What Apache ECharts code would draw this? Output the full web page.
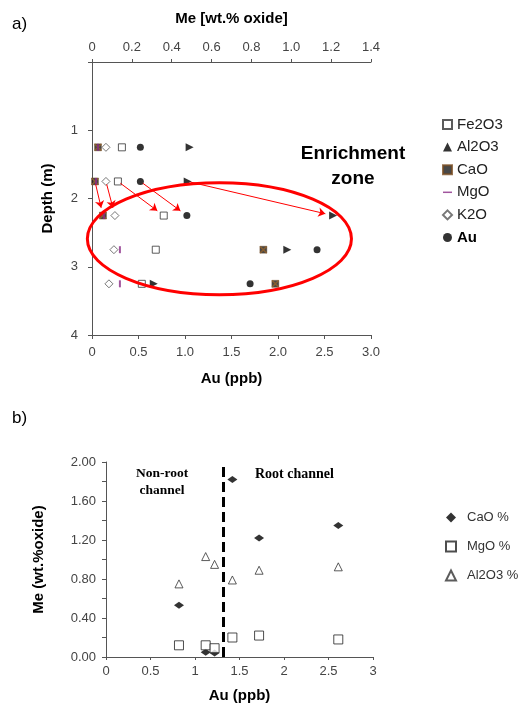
<!DOCTYPE html>
<html>
<head>
<meta charset="utf-8">
<script src="https://cdn.jsdelivr.net/npm/echarts@6/dist/echarts.min.js"></script>
<style>
html, body { margin: 0; padding: 0; background: #fff; }
#chart { width: 521px; height: 704px; }
</style>
</head>
<body>
<div id="chart"></div>
<script>
// panel a) depth profile, oxides on the top axis, Au on the bottom axis
const depths = [1.25, 1.75, 2.25, 2.75, 3.25]
const fe2o3 = [0.15, 0.13, 0.36, 0.32, 0.25]
const al2o3 = [0.49, 0.48, 1.21, 0.98, 0.31]
const cao = [0.03, 0.015, 0.055, 0.86, 0.92]
const mgo = [0.03, 0.02, 0.06, 0.14, 0.14]
const k2o = [0.07, 0.07, 0.115, 0.11, 0.085]
const au = [0.52, 0.52, 1.02, 2.42, 1.70]

// enrichment ellipse, in data units (Au, depth)
const zone = { au: 1.37, depth: 2.59, auHalf: 1.42, depthHalf: 0.82 }

// panel b) Me vs Au
const auB = [0.82, 1.12, 1.22, 1.42, 1.72, 2.61]
const caoB = [0.53, 0.05, 0.04, 1.82, 1.22, 1.35]
const mgoB = [0.12, 0.12, 0.09, 0.20, 0.22, 0.18]
const al2o3B = [0.75, 1.03, 0.95, 0.79, 0.89, 0.925]
const rootLimit = 1.32

const FONT = '"Liberation Sans", Arial, sans-serif'
const SERIF = '"Liberation Serif", "Times New Roman", serif'
const AXIS_COLOR = '#555'
const LABEL_COLOR = '#444'

const byDepth = (vals) => vals.map((v, i) => [v, depths[i]])
const byAu = (vals) => vals.map((v, i) => [auB[i], v])
const oneDec = (v) => (v === 0 ? '0' : v.toFixed(1))

const chart = echarts.init(document.getElementById('chart'))

const axisBase = {
  type: 'value',
  splitLine: { show: false },
  axisLine: { show: true, onZero: false, lineStyle: { color: AXIS_COLOR, width: 1 } },
  axisTick: { show: true, length: 4, lineStyle: { color: AXIS_COLOR } },
  axisLabel: { color: LABEL_COLOR, fontFamily: FONT, fontSize: 13 },
  nameTextStyle: { color: '#000', fontFamily: FONT, fontSize: 15, fontWeight: 'bold' },
  nameLocation: 'middle'
}

const option = {
  animation: false,
  backgroundColor: '#fff',
  grid: [
    { left: 92, top: 62, width: 279, height: 273 },
    { left: 106, top: 462, width: 267, height: 199 }
  ],
  xAxis: [
    {
      ...axisBase, gridIndex: 0, position: 'top', min: 0, max: 1.4, interval: 0.2,
      name: 'Me [wt.% oxide]', nameGap: 36,
      axisTick: { ...axisBase.axisTick, length: 3 },
      axisLabel: { ...axisBase.axisLabel, margin: 8, formatter: oneDec }
    },
    {
      ...axisBase, gridIndex: 0, position: 'bottom', min: 0, max: 3, interval: 0.5,
      name: 'Au (ppb)', nameGap: 36,
      axisLabel: { ...axisBase.axisLabel, margin: 11, formatter: oneDec }
    },
    {
      ...axisBase, gridIndex: 1, position: 'bottom', min: 0, max: 3, interval: 0.5,
      name: 'Au (ppb)', nameGap: 31,
      axisTick: { ...axisBase.axisTick, length: 3 },
      axisLabel: { ...axisBase.axisLabel, margin: 8 }
    }
  ],
  yAxis: [
    {
      ...axisBase, gridIndex: 0, inverse: true, min: 0, max: 4, interval: 1,
      name: 'Depth (m)', nameGap: 37,
      axisLabel: { ...axisBase.axisLabel, margin: 14, formatter: (v) => (v === 0 ? '' : v) }
    },
    {
      ...axisBase, gridIndex: 1, min: 0, max: 2, interval: 0.2,
      name: 'Me (wt.%oxide)', nameGap: 60,
      axisLabel: {
        ...axisBase.axisLabel, margin: 10,
        formatter: (v) => (Math.round(v * 10) % 4 === 0 ? v.toFixed(2) : '')
      }
    }
  ],
  legend: [
    {
      orient: 'vertical', left: 442, top: 117, padding: 0,
      itemWidth: 9, itemHeight: 9, itemGap: 7.6,
      textStyle: { color: '#222', fontFamily: FONT, fontSize: 15 },
      data: [
        { name: 'Fe2O3' },
        { name: 'Al2O3', icon: 'triangle' },
        { name: 'CaO' },
        { name: 'MgO', icon: 'path://M0,0 L12,0 L12,2 L0,2 Z' },
        { name: 'K2O' },
        { name: 'Au', textStyle: { fontWeight: 'bold', color: '#000' } }
      ]
    },
    {
      orient: 'vertical', left: 445, top: 511, padding: 0,
      itemWidth: 10, itemHeight: 10, itemGap: 16,
      textStyle: { color: '#333', fontFamily: FONT, fontSize: 13, padding: [0, 0, 0, 6] },
      data: ['CaO %', 'MgO %', 'Al2O3 %']
    }
  ],
  series: [
    {
      name: 'Fe2O3', type: 'scatter', xAxisIndex: 0, yAxisIndex: 0,
      symbol: 'rect', symbolSize: 7,
      itemStyle: { color: '#fff', borderColor: '#333', borderWidth: 1 },
      data: byDepth(fe2o3)
    },
    {
      name: 'Al2O3', type: 'scatter', xAxisIndex: 0, yAxisIndex: 0,
      symbol: 'path://M0,0 L10,5 L0,10 Z', symbolSize: 8,
      itemStyle: { color: '#000' },
      data: byDepth(al2o3)
    },
    {
      name: 'CaO', type: 'scatter', xAxisIndex: 0, yAxisIndex: 0,
      symbol: 'rect', symbolSize: 7,
      itemStyle: { color: '#1a1a1a', borderColor: '#7a4e22', borderWidth: 0.5 },
      data: byDepth(cao)
    },
    {
      name: 'CaO-x', type: 'scatter', xAxisIndex: 0, yAxisIndex: 0, silent: true,
      symbol: 'path://M0,0 L1.5,0 L10,8.5 L10,10 L8.5,10 L0,1.5 Z M8.5,0 L10,0 L10,1.5 L1.5,10 L0,10 L0,8.5 Z',
      symbolSize: 7,
      itemStyle: { color: '#9a6428' },
      data: byDepth(cao)
    },
    {
      name: 'MgO', type: 'scatter', xAxisIndex: 0, yAxisIndex: 0,
      symbol: 'path://M0,0 L2,0 L2,8 L0,8 Z', symbolSize: [2, 7],
      itemStyle: { color: '#8a2a86' },
      data: byDepth(mgo)
    },
    {
      name: 'K2O', type: 'scatter', xAxisIndex: 0, yAxisIndex: 0,
      symbol: 'diamond', symbolSize: 8,
      itemStyle: { color: '#fff', borderColor: '#555', borderWidth: 1 },
      data: byDepth(k2o)
    },
    {
      id: 'au', name: 'Au', type: 'scatter', xAxisIndex: 1, yAxisIndex: 0,
      symbol: 'circle', symbolSize: 7,
      itemStyle: { color: '#000' },
      data: byDepth(au)
    },
    {
      name: 'CaO %', type: 'scatter', xAxisIndex: 2, yAxisIndex: 1,
      symbol: 'diamond', symbolSize: [10, 7],
      itemStyle: { color: '#000' },
      data: byAu(caoB),
      markLine: {
        silent: true, symbol: ['none', 'none'],
        label: { show: false },
        lineStyle: { color: '#000', width: 3, type: [10, 5] },
        data: [{ xAxis: rootLimit }]
      }
    },
    {
      name: 'MgO %', type: 'scatter', xAxisIndex: 2, yAxisIndex: 1,
      symbol: 'rect', symbolSize: 9,
      itemStyle: { color: '#fff', borderColor: '#222', borderWidth: 1 },
      data: byAu(mgoB)
    },
    {
      name: 'Al2O3 %', type: 'scatter', xAxisIndex: 2, yAxisIndex: 1,
      symbol: 'triangle', symbolSize: 8,
      itemStyle: { color: '#fff', borderColor: '#333', borderWidth: 1 },
      data: byAu(al2o3B)
    }
  ]
}

chart.setOption(option)

// arrows from the 1.75 m row to the 2.25 m row, and the enrichment ellipse
const toPx = (xi, x, y) => chart.convertToPixel({ xAxisIndex: xi, yAxisIndex: 0 }, [x, y])
const arrowSets = [[cao, 0], [k2o, 0], [fe2o3, 0], [au, 1], [al2o3, 0]]
const arrows = arrowSets.map(([vals, xi]) => {
  const p1 = toPx(xi, vals[1], depths[1])
  const p2 = toPx(xi, vals[2], depths[2])
  const dx = p2[0] - p1[0], dy = p2[1] - p1[1]
  const len = Math.sqrt(dx * dx + dy * dy)
  const ux = dx / len, uy = dy / len
  return [
    { x: p1[0] + ux * 3, y: p1[1] + uy * 3 },
    { x: p2[0] - ux * 8, y: p2[1] - uy * 8 }
  ]
})

const c = toPx(1, zone.au, zone.depth)
const cx2 = toPx(1, zone.au + zone.auHalf, zone.depth)
const cy2 = toPx(1, zone.au, zone.depth + zone.depthHalf)

const txt = (text, x, y, font, align) => ({
  type: 'text', x, y, z: 50,
  style: { text, font, fill: '#000', align: align || 'center', verticalAlign: 'middle' }
})

chart.setOption({
  series: [{
    id: 'au',
    markLine: {
      silent: true, symbol: ['none', 'arrow'], symbolSize: 7,
      label: { show: false },
      lineStyle: { color: '#f00', width: 1, type: 'solid' },
      data: arrows
    }
  }],
  graphic: [
    {
      type: 'ellipse', z: 40, silent: true,
      shape: { cx: c[0], cy: c[1], rx: cx2[0] - c[0], ry: cy2[1] - c[1] },
      style: { fill: 'none', stroke: '#f00', lineWidth: 3 }
    },
    txt('a)', 12, 24, '17px ' + FONT, 'left'),
    txt('b)', 12, 418, '17px ' + FONT, 'left'),
    txt('Enrichment', 353, 154, 'bold 19px ' + FONT),
    txt('zone', 353, 179, 'bold 19px ' + FONT),
    txt('Non-root', 162, 474, 'bold 13.5px ' + SERIF),
    txt('channel', 162, 491, 'bold 13.5px ' + SERIF),
    txt('Root channel', 255, 474, 'bold 14px ' + SERIF, 'left')
  ]
})
</script>
</body>
</html>
